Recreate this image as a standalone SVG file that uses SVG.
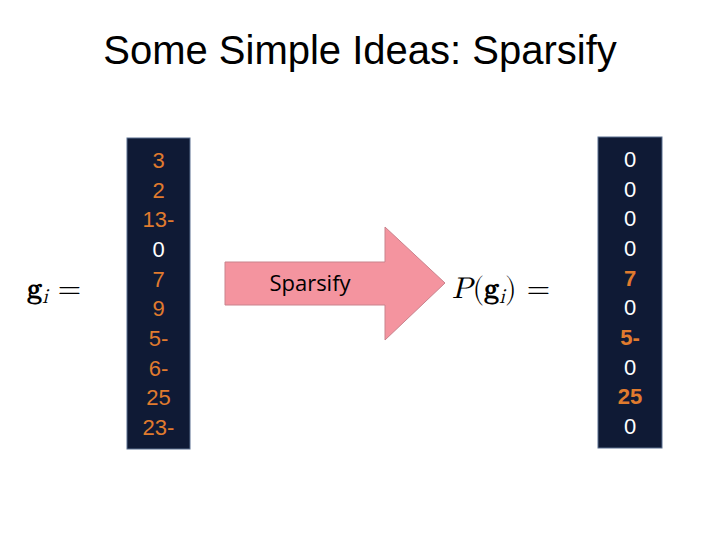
<svg xmlns="http://www.w3.org/2000/svg" width="720" height="540" viewBox="0 0 720 540">
<style>
.box{fill:#0f1a35;stroke:#5a6f8f;stroke-width:1}
.n{font-family:"Liberation Sans",Arial,sans-serif;font-size:22px;text-anchor:middle;fill:#e07b2e}
.w{fill:#ffffff}
.b{font-weight:bold}
.m{font-family:"Latin Modern Math","DejaVu Serif","Liberation Serif",serif;font-size:30px}
</style>
<rect width="720" height="540" fill="#fff"/>
<text x="360" y="64" font-family="Liberation Sans,Arial,sans-serif" font-size="40" text-anchor="middle" fill="#000">Some Simple Ideas: Sparsify</text>
<g id="left">
<rect class="box" x="127" y="138" width="63" height="311"/>
<text class="n" x="158.5" y="168">3</text>
<text class="n" x="158.5" y="198">2</text>
<text class="n" x="158.5" y="227">13-</text>
<text class="n w" x="158.5" y="257">0</text>
<text class="n" x="158.5" y="287">7</text>
<text class="n" x="158.5" y="316">9</text>
<text class="n" x="158.5" y="346">5-</text>
<text class="n" x="158.5" y="376">6-</text>
<text class="n" x="158.5" y="405">25</text>
<text class="n" x="158.5" y="435">23-</text>
</g>
<g id="right">
<rect class="box" x="598" y="137" width="64" height="311"/>
<text class="n w" x="630" y="167">0</text>
<text class="n w" x="630" y="197">0</text>
<text class="n w" x="630" y="226">0</text>
<text class="n w" x="630" y="256">0</text>
<text class="n b" x="630" y="286">7</text>
<text class="n w" x="630" y="315">0</text>
<text class="n b" x="630" y="345">5-</text>
<text class="n w" x="630" y="375">0</text>
<text class="n b" x="630" y="404">25</text>
<text class="n w" x="630" y="434">0</text>
</g>
<g id="lhs"><text class="m" x="27" y="298"><tspan font-weight="bold">g</tspan><tspan font-style="italic" font-size="21" dy="5">i</tspan><tspan dy="-5" dx="10">=</tspan></text></g>
<g id="rhs"><text class="m" x="452" y="298"><tspan font-style="italic">P</tspan>(<tspan font-weight="bold">g</tspan><tspan font-style="italic" font-size="21" dy="5">i</tspan><tspan dy="-5">)</tspan><tspan dx="10">=</tspan></text></g>
<g id="connectors">
<g id="arrow">
<path d="M225,262 H385 V227 L445,283 L385,340 V305 H225 Z" fill="#f4949f" stroke="#c9828c" stroke-width="1"/>
<text x="310" y="291" font-family="Open Sans,Liberation Sans,sans-serif" font-size="22" text-anchor="middle" fill="#000">Sparsify</text>
</g>
</g>
</svg>
